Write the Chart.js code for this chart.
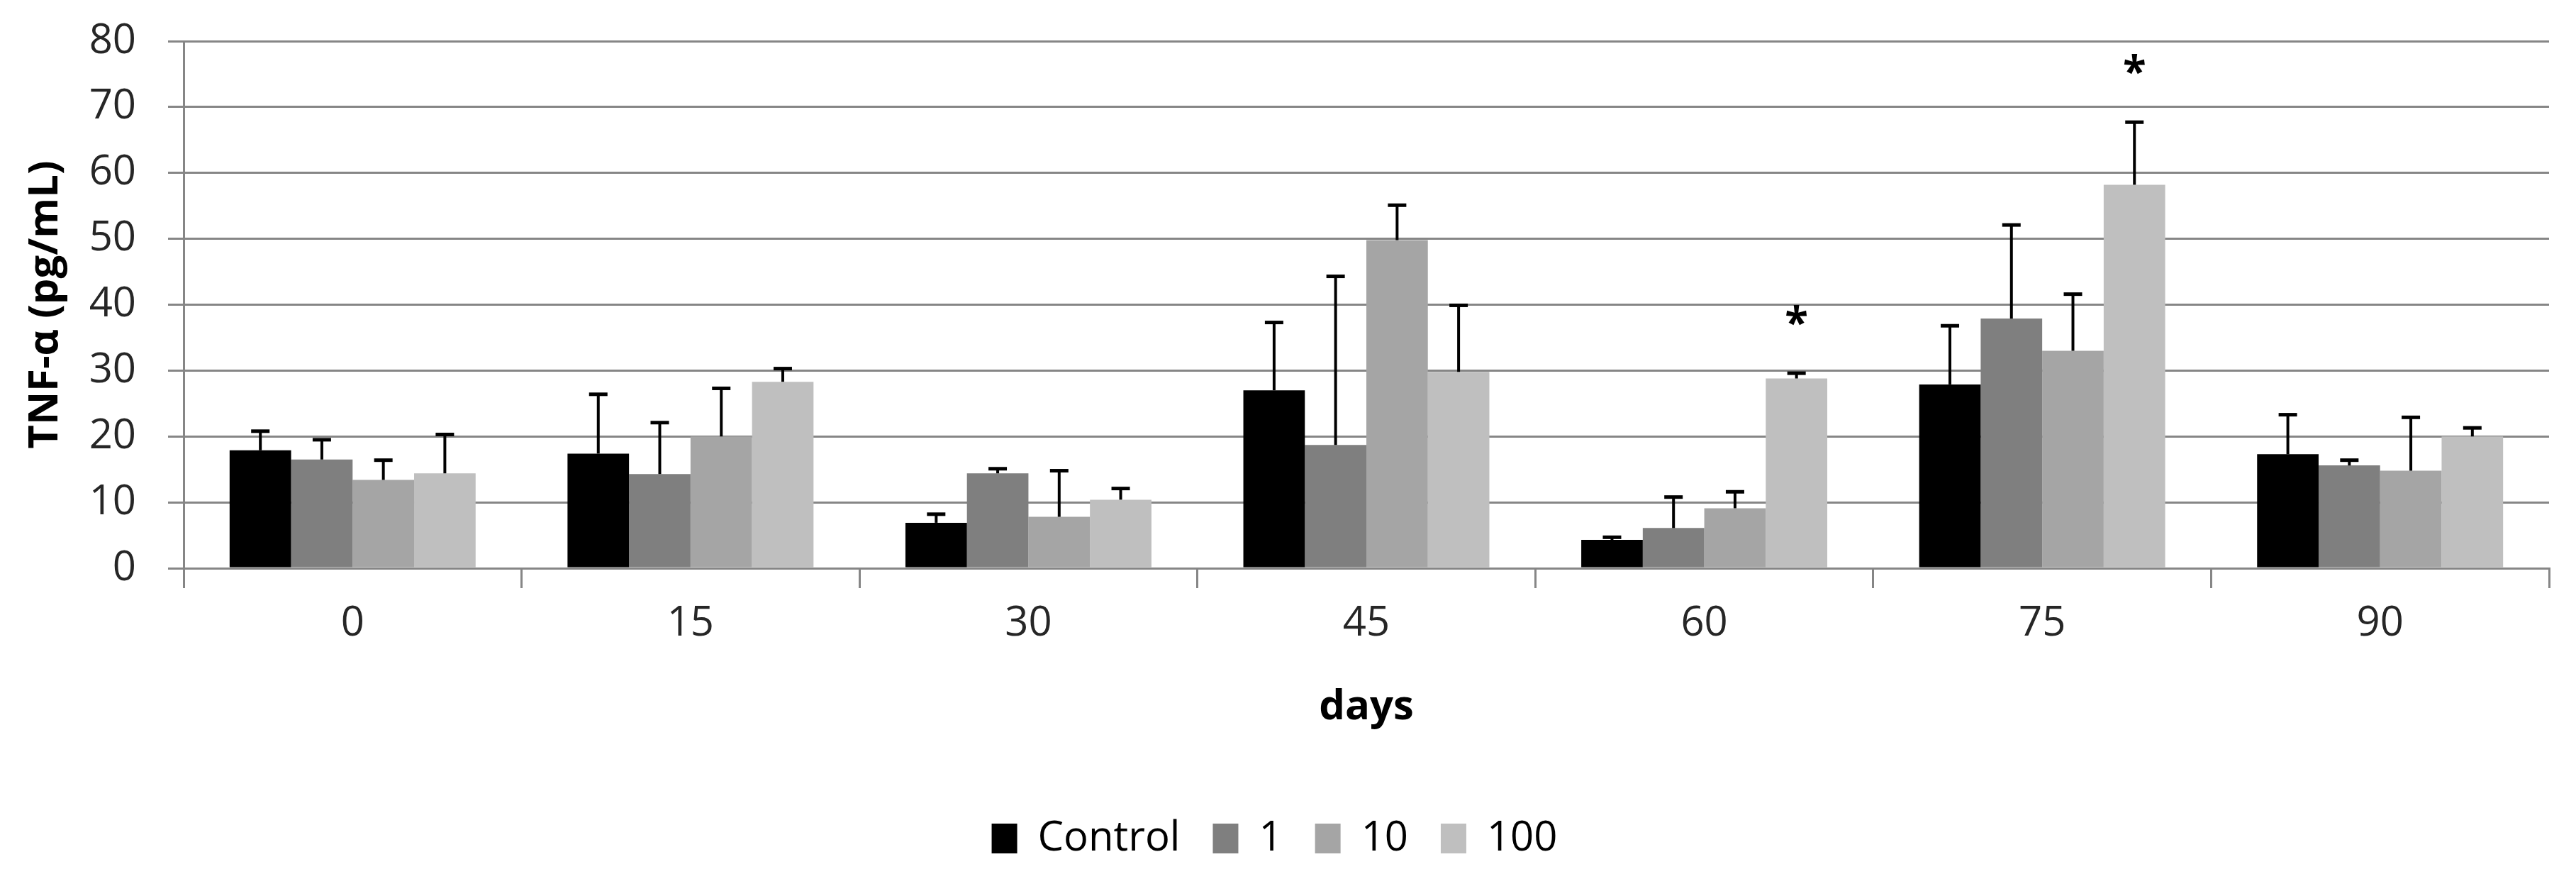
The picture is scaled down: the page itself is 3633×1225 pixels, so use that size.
<!DOCTYPE html>
<html>
<head>
<meta charset="utf-8">
<script src="https://cdn.jsdelivr.net/npm/chart.js@4.4.1/dist/chart.umd.min.js"></script>
<style>
    html, body { margin: 0; padding: 0; background: #fff; }
    #chart { display: block; }
</style>
</head>
<body>
<canvas id="chart" width="3633" height="1225"></canvas>
<script>
    // values
    const days = ['0', '15', '30', '45', '60', '75', '90'];
    const seriesNames = ['Control', '1', '10', '100'];
    const seriesColors = ['#000000', '#7f7f7f', '#a5a5a5', '#bfbfbf'];

    const controlVals = [17.9, 17.4, 6.9, 27.0, 4.3, 27.9, 17.3];
    const dose1Vals = [16.5, 14.3, 14.4, 18.7, 6.1, 37.9, 15.6];
    const dose10Vals = [13.4, 20.0, 7.8, 49.8, 9.1, 33.0, 14.8];
    const dose100Vals = [14.4, 28.3, 10.4, 29.8, 28.8, 58.2, 20.0];

    // upper error bar length (SD)
    const controlErr = [2.9, 9.0, 1.3, 10.3, 0.4, 8.9, 6.0];
    const dose1Err = [3.0, 7.8, 0.7, 25.6, 4.7, 14.2, 0.8];
    const dose10Err = [3.0, 7.3, 7.0, 5.3, 2.5, 8.6, 8.1];
    const dose100Err = [5.9, 2.0, 1.7, 10.1, 0.8, 9.5, 1.3];

    // significance marks: day label + series index
    const starDays = ['60', '75'];
    const starSeries = [3, 3];

    const yTicks = [0, 10, 20, 30, 40, 50, 60, 70, 80];

    const FONT = "'Open Sans', 'DejaVu Sans', sans-serif";
    const FS = 58;

    const allVals = [controlVals, dose1Vals, dose10Vals, dose100Vals];
    const allErr = [controlErr, dose1Err, dose10Err, dose100Err];

    const errorBars = {
        id: 'errorBars',
        afterDatasetsDraw(chart) {
            const ctx = chart.ctx;
            const yScale = chart.scales.y;
            ctx.save();
            ctx.strokeStyle = '#000';
            ctx.lineCap = 'butt';
            chart.data.datasets.forEach((ds, i) => {
                const meta = chart.getDatasetMeta(i);
                meta.data.forEach((bar, j) => {
                    const top = yScale.getPixelForValue(ds.data[j] + ds.errors[j]);
                    ctx.lineWidth = 4;
                    ctx.beginPath();
                    ctx.moveTo(bar.x, bar.y);
                    ctx.lineTo(bar.x, top);
                    ctx.stroke();
                    ctx.lineWidth = 5;
                    ctx.beginPath();
                    ctx.moveTo(bar.x - 13, top);
                    ctx.lineTo(bar.x + 13, top);
                    ctx.stroke();
                });
            });
            // asterisks above the marked bars
            ctx.fillStyle = '#000';
            ctx.font = 'bold 60px ' + FONT;
            ctx.textAlign = 'center';
            ctx.textBaseline = 'alphabetic';
            starDays.forEach((d, k) => {
                const j = days.indexOf(d);
                const s = starSeries[k];
                const bar = chart.getDatasetMeta(s).data[j];
                const top = yScale.getPixelForValue(allVals[s][j] + allErr[s][j]);
                ctx.fillText('*', bar.x, top - 50);
            });
            ctx.restore();
        }
    };

    const datasets = seriesNames.map((name, i) => ({
        label: name,
        data: allVals[i],
        errors: allErr[i],
        backgroundColor: seriesColors[i],
        borderWidth: 0,
        barPercentage: 1.0,
        categoryPercentage: 0.728
    }));

    new Chart(document.getElementById('chart'), {
        type: 'bar',
        data: { labels: days, datasets: datasets },
        options: {
            responsive: false,
            devicePixelRatio: 1,
            animation: false,
            layout: { padding: { top: 58, right: 38, bottom: 4, left: 0 } },
            plugins: {
                tooltip: { enabled: false },
                legend: {
                    position: 'bottom',
                    labels: {
                        boxWidth: 36,
                        boxHeight: 42,
                        padding: 46,
                        color: '#000',
                        font: { family: FONT, size: FS }
                    }
                }
            },
            scales: {
                x: {
                    afterFit: s => { s.height = 306; },
                    grid: {
                        offset: true,
                        drawOnChartArea: false,
                        tickLength: 28,
                        color: '#868686',
                        lineWidth: 3
                    },
                    border: { display: true, color: '#868686', width: 3 },
                    ticks: { color: '#262626', padding: 16, font: { family: FONT, size: FS } },
                    title: {
                        display: true,
                        text: 'days',
                        color: '#000',
                        padding: { top: 20, bottom: 75 },
                        font: { family: FONT, size: FS, weight: 'bold' }
                    }
                },
                y: {
                    min: 0,
                    max: 80,
                    afterFit: s => { s.width = 259; s.paddingTop = 0; s.paddingBottom = 0; },
                    afterBuildTicks: s => { s.ticks = yTicks.map(v => ({ value: v })); },
                    grid: { color: '#868686', lineWidth: 3, tickLength: 22 },
                    border: { display: true, color: '#868686', width: 3 },
                    ticks: { color: '#262626', padding: 45, font: { family: FONT, size: FS } },
                    title: {
                        display: true,
                        text: 'TNF-α (pg/mL)',
                        color: '#000',
                        padding: { top: 30, bottom: 10 },
                        font: { family: FONT, size: FS, weight: 'bold' }
                    }
                }
            }
        },
        plugins: [errorBars]
    });
</script>
</body>
</html>
